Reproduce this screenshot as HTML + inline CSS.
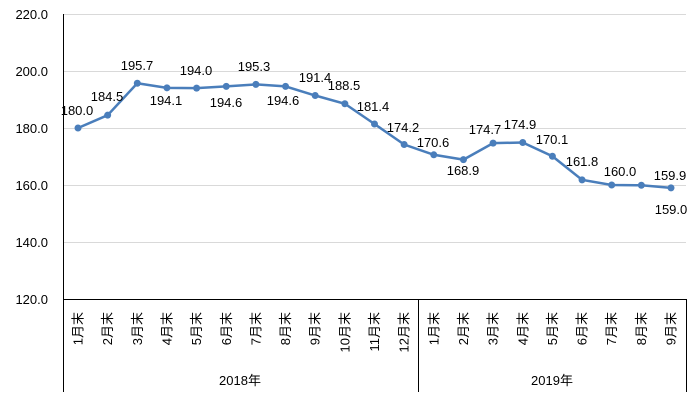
<!DOCTYPE html>
<html><head><meta charset="utf-8"><style>
html,body{margin:0;padding:0;background:#fff;}
svg{display:block;font-family:"Liberation Sans","Noto Sans CJK SC",sans-serif;}
</style></head><body>
<svg width="700" height="403" viewBox="0 0 700 403" xmlns="http://www.w3.org/2000/svg">
<g stroke="#d9d9d9" stroke-width="1">
<line x1="63" y1="14.5" x2="686" y2="14.5"/>
<line x1="63" y1="71.5" x2="686" y2="71.5"/>
<line x1="63" y1="128.5" x2="686" y2="128.5"/>
<line x1="63" y1="185.5" x2="686" y2="185.5"/>
<line x1="63" y1="242.5" x2="686" y2="242.5"/>
</g>
<g stroke="#000" stroke-width="1">
<line x1="63" y1="299.5" x2="686" y2="299.5"/>
<line x1="63.5" y1="14" x2="63.5" y2="392"/>
<line x1="418.5" y1="299" x2="418.5" y2="392"/>
<line x1="686.5" y1="299" x2="686.5" y2="392"/>
</g>
<g font-size="13" fill="#000" text-anchor="end">
<text x="48" y="19">220.0</text>
<text x="48" y="76">200.0</text>
<text x="48" y="133">180.0</text>
<text x="48" y="190">160.0</text>
<text x="48" y="247">140.0</text>
<text x="48" y="304">120.0</text>
</g>
<g id="cats" font-size="13" fill="#000" text-anchor="end"></g>
<text x="240" y="385" font-size="13" text-anchor="middle">2018年</text>
<text x="552" y="385" font-size="13" text-anchor="middle">2019年</text>
<polyline id="ln" fill="none" stroke="#4a7ebb" stroke-width="2.5" points=""/>
<g id="pts" fill="#4a7ebb"></g>
<g font-size="13" fill="#000" text-anchor="middle">
<text x="77" y="115">180.0</text>
<text x="107" y="101">184.5</text>
<text x="137" y="70">195.7</text>
<text x="166" y="105">194.1</text>
<text x="196" y="75">194.0</text>
<text x="226" y="107">194.6</text>
<text x="254" y="71">195.3</text>
<text x="283" y="105">194.6</text>
<text x="315" y="82">191.4</text>
<text x="344" y="90">188.5</text>
<text x="373" y="111">181.4</text>
<text x="403" y="132">174.2</text>
<text x="433" y="147">170.6</text>
<text x="463" y="175">168.9</text>
<text x="485" y="134">174.7</text>
<text x="520" y="129">174.9</text>
<text x="552" y="144">170.1</text>
<text x="582" y="166">161.8</text>
<text x="620" y="176">160.0</text>
<text x="670" y="180">159.9</text>
<text x="671" y="214">159.0</text>
</g>
<script>
var v=[180.0,184.5,195.7,194.1,194.0,194.6,195.3,194.6,191.4,188.5,181.4,174.2,170.6,168.9,174.7,174.9,170.1,161.8,160.0,159.9,159.0];
var m=["1月末","2月末","3月末","4月末","5月末","6月末","7月末","8月末","9月末","10月末","11月末","12月末","1月末","2月末","3月末","4月末","5月末","6月末","7月末","8月末","9月末"];
var ns="http://www.w3.org/2000/svg",pts=[],g=document.getElementById("pts"),c=document.getElementById("cats");
for(var i=0;i<21;i++){var x=78+i*29.65,y=299-(v[i]-120)*2.85;pts.push(x+","+y);
var e=document.createElementNS(ns,"circle");e.setAttribute("cx",x);e.setAttribute("cy",y);e.setAttribute("r",3.5);g.appendChild(e);
var t=document.createElementNS(ns,"text");t.setAttribute("transform","translate("+(x+4.5)+",312) rotate(-90)");t.textContent=m[i];c.appendChild(t);}
document.getElementById("ln").setAttribute("points",pts.join(" "));
</script>
</svg>
</body></html>
